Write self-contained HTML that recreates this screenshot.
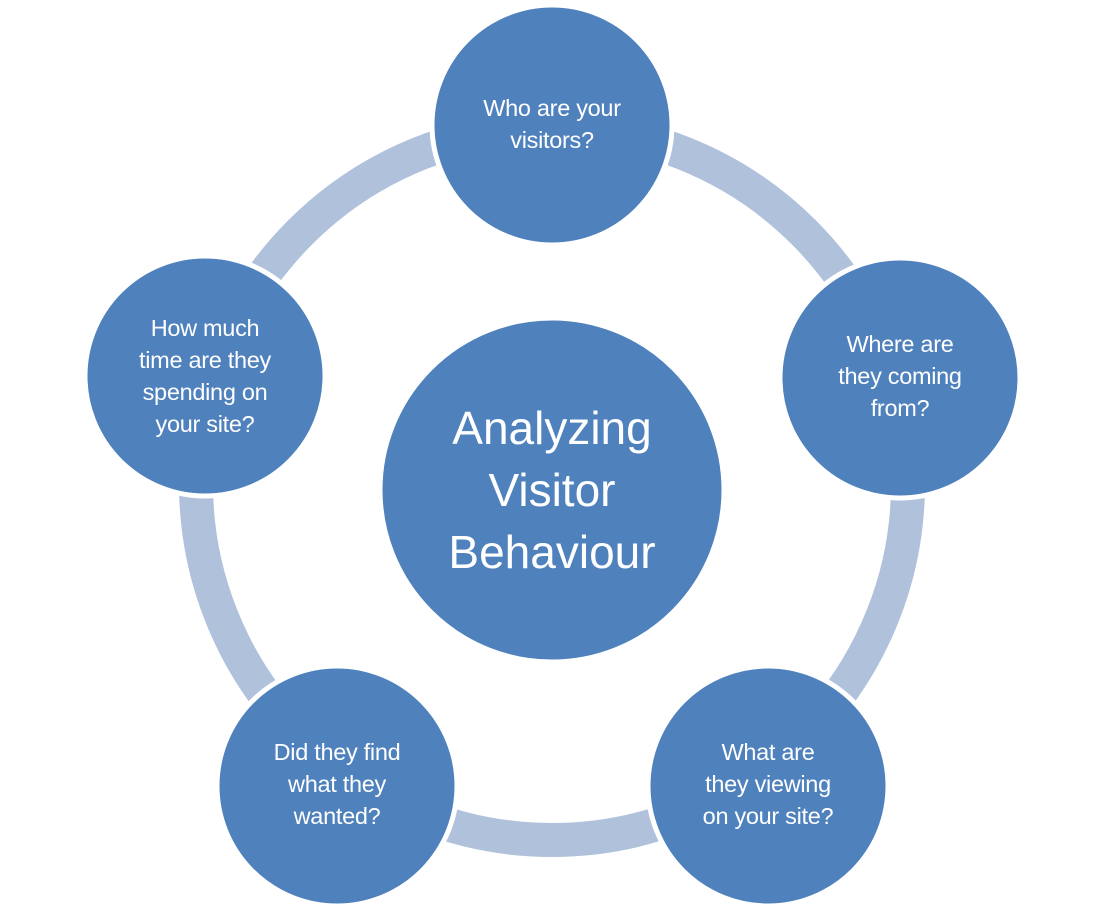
<!DOCTYPE html>
<html><head><style>
html,body{margin:0;padding:0;background:#fff;}
svg{display:block;}
text{font-family:"Liberation Sans",sans-serif;fill:#fff;text-anchor:middle;}
</style></head><body>
<svg width="1104" height="913" viewBox="0 0 1104 913">
<circle cx="552" cy="484" r="356" fill="none" stroke="#b0c1dc" stroke-width="34"/>
<g fill="#4f81bd" stroke="#fff" stroke-width="5">
<circle cx="552" cy="125" r="120"/>
<circle cx="900" cy="378" r="120"/>
<circle cx="768" cy="786" r="120"/>
<circle cx="337" cy="786" r="120"/>
<circle cx="205" cy="376" r="120"/>
<circle cx="552" cy="490" r="172"/>
</g>
<g font-size="23.5" style="letter-spacing:-0.3px">
<text x="552" y="116">Who are your</text>
<text x="552" y="148">visitors?</text>
<text x="900" y="352">Where are</text>
<text x="900" y="384">they coming</text>
<text x="900" y="416">from?</text>
<text x="768" y="760">What are</text>
<text x="768" y="792">they viewing</text>
<text x="768" y="824">on your site?</text>
<text x="337" y="760">Did they find</text>
<text x="337" y="792">what they</text>
<text x="337" y="824">wanted?</text>
<text x="205" y="336">How much</text>
<text x="205" y="368">time are they</text>
<text x="205" y="400">spending on</text>
<text x="205" y="432">your site?</text>
</g>
<g font-size="46">
<text x="552" y="444">Analyzing</text>
<text x="552" y="506">Visitor</text>
<text x="552" y="568">Behaviour</text>
</g>
</svg>
</body></html>
